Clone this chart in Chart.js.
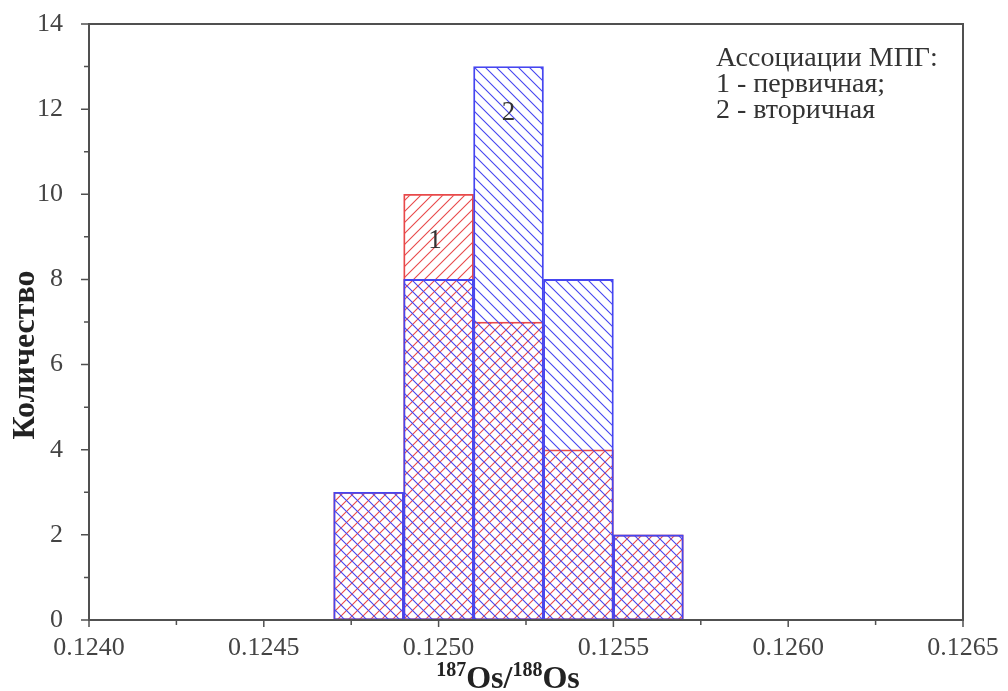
<!DOCTYPE html>
<html>
<head>
<meta charset="utf-8">
<script src="https://cdn.jsdelivr.net/npm/chart.js@4/dist/chart.umd.min.js"></script>
<style>
  html, body { margin: 0; padding: 0; background: #fff; }
  #wrap { width: 1008px; height: 691px; position: relative; }
</style>
</head>
<body>
<div id="wrap"><canvas id="chart"></canvas></div>
<script>
// histogram bins (centres of 0.0002-wide bins)
const binCenters = [0.1248, 0.1250, 0.1252, 0.1254, 0.1256];
const primaryCounts = [3, 10, 7, 4, 2];     // 1 - первичная
const secondaryCounts = [3, 8, 13, 8, 2];   // 2 - вторичная
const xTickValues = [0.1240, 0.1245, 0.1250, 0.1255, 0.1260, 0.1265];
const xMinorValues = [0.12425, 0.12475, 0.12525, 0.12575, 0.12625];
const yTickValues = [0, 2, 4, 6, 8, 10, 12, 14];
const yMinorValues = [1, 3, 5, 7, 9, 11, 13];
const legendLines = ['Ассоциации МПГ:', '1 - первичная;', '2 - вторичная'];

const SERIF = '"Liberation Serif", "DejaVu Serif", serif';
const AXIS = '#505050';
const RED = '#e8494a';
const BLUE = '#4646f0';

const canvas = document.getElementById('chart');
const ctx = canvas.getContext('2d');

function hatch(color, dir) {
    const s = 11;
    const c = document.createElement('canvas');
    c.width = s; c.height = s;
    const g = c.getContext('2d');
    g.strokeStyle = color;
    g.lineWidth = 1.1;
    g.beginPath();
    if (dir > 0) {
        g.moveTo(0, s); g.lineTo(s, 0);
        g.moveTo(-2, 2); g.lineTo(2, -2);
        g.moveTo(s - 2, s + 2); g.lineTo(s + 2, s - 2);
    } else {
        g.moveTo(0, 0); g.lineTo(s, s);
        g.moveTo(-2, s - 2); g.lineTo(2, s + 2);
        g.moveTo(s - 2, -2); g.lineTo(s + 2, 2);
    }
    g.stroke();
    return ctx.createPattern(c, 'repeat');
}

const toPoints = (vals) => vals.map((v, i) => ({ x: binCenters[i], y: v }));

// frame, ticks, annotations and the text block
const decorations = {
    id: 'decorations',
    afterDraw(chart) {
        const { ctx, chartArea: a, scales: { x, y } } = chart;
        ctx.save();
        ctx.strokeStyle = AXIS;
        ctx.lineWidth = 2;
        ctx.strokeRect(a.left, a.top, a.right - a.left, a.bottom - a.top);

        ctx.lineWidth = 1.5;
        ctx.beginPath();
        yTickValues.forEach(v => { const p = y.getPixelForValue(v); ctx.moveTo(a.left - 8, p); ctx.lineTo(a.left, p); });
        yMinorValues.forEach(v => { const p = y.getPixelForValue(v); ctx.moveTo(a.left - 5, p); ctx.lineTo(a.left, p); });
        xTickValues.forEach(v => { const p = x.getPixelForValue(v); ctx.moveTo(p, a.bottom); ctx.lineTo(p, a.bottom + 7); });
        xMinorValues.forEach(v => { const p = x.getPixelForValue(v); ctx.moveTo(p, a.bottom); ctx.lineTo(p, a.bottom + 5); });
        ctx.stroke();

        // series labels inside bars
        ctx.fillStyle = '#333';
        ctx.font = '27px ' + SERIF;
        ctx.textAlign = 'center';
        ctx.textBaseline = 'middle';
        ctx.fillText('1', x.getPixelForValue(0.12499), y.getPixelForValue(8.9));
        ctx.fillText('2', x.getPixelForValue(0.1252), y.getPixelForValue(11.9));

        // legend text
        ctx.font = '28px ' + SERIF;
        ctx.textAlign = 'left';
        ctx.textBaseline = 'alphabetic';
        legendLines.forEach((t, i) => ctx.fillText(t, 716, 66 + i * 26));

        // axis titles
        ctx.fillStyle = '#222';
        ctx.save();
        ctx.translate(34, 355);
        ctx.rotate(-Math.PI / 2);
        ctx.font = 'bold 32px ' + SERIF;
        ctx.textAlign = 'center';
        ctx.fillText('Количество', 0, 0);
        ctx.restore();

        const parts = [['187', true], ['Os/', false], ['188', true], ['Os', false]];
        const big = 'bold 32px ' + SERIF, small = 'bold 20px ' + SERIF;
        let w = 0;
        parts.forEach(([t, sup]) => { ctx.font = sup ? small : big; w += ctx.measureText(t).width; });
        let px = 508 - w / 2;
        const base = 688;
        parts.forEach(([t, sup]) => {
            ctx.font = sup ? small : big;
            ctx.fillText(t, px, sup ? base - 12 : base);
            px += ctx.measureText(t).width;
        });
        ctx.restore();
    }
};

new Chart(ctx, {
    type: 'bar',
    data: {
        datasets: [
            {
                label: '2 - вторичная',
                data: toPoints(secondaryCounts),
                backgroundColor: hatch(BLUE, -1),
                borderColor: BLUE,
                borderWidth: 1.2,
                borderSkipped: false,
                grouped: false,
                barPercentage: 1,
                categoryPercentage: 1
            },
            {
                label: '1 - первичная',
                data: toPoints(primaryCounts),
                backgroundColor: hatch(RED, 1),
                borderColor: RED,
                borderWidth: 1.2,
                borderSkipped: false,
                grouped: false,
                barPercentage: 1,
                categoryPercentage: 1
            }
        ]
    },
    options: {
        responsive: true,
        maintainAspectRatio: false,
        animation: false,
        layout: { padding: { top: 24, right: 45, left: 0, bottom: 0 } },
        plugins: {
            legend: { display: false },
            tooltip: { enabled: false }
        },
        scales: {
            x: {
                type: 'linear',
                offset: false,
                min: 0.1240,
                max: 0.1265,
                afterBuildTicks: s => { s.ticks = xTickValues.map(v => ({ value: v })); },
                afterFit: s => { s.height = 71; },
                grid: { display: false },
                border: { display: false },
                ticks: {
                    color: '#444',
                    font: { family: SERIF, size: 26 },
                    padding: 5,
                    maxRotation: 0,
                    autoSkip: false,
                    callback: v => v.toFixed(4)
                }
            },
            y: {
                min: 0,
                max: 14,
                afterBuildTicks: s => { s.ticks = yTickValues.map(v => ({ value: v })); },
                afterFit: s => { s.width = 89; s.paddingTop = 0; s.paddingBottom = 0; },
                grid: { display: false },
                border: { display: false },
                ticks: {
                    color: '#444',
                    font: { family: SERIF, size: 26 },
                    padding: 18
                }
            }
        }
    },
    plugins: [decorations]
});
</script>
</body>
</html>
